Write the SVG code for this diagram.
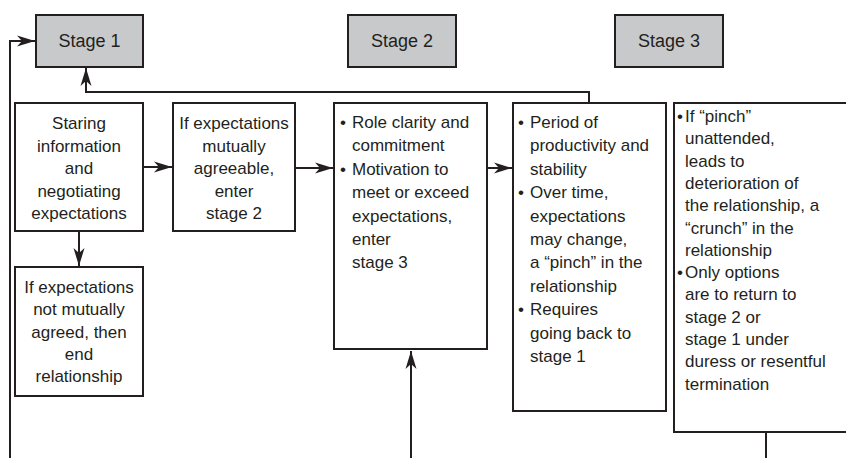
<svg xmlns="http://www.w3.org/2000/svg" width="846" height="458" viewBox="0 0 846 458">
  <style>
    .box { fill: #ffffff; stroke: #231f20; stroke-width: 2; }
    .stage { fill: #c8c9cb; stroke: #231f20; stroke-width: 2; }
    .t { font-family: "Liberation Sans", Arial, Helvetica, sans-serif; font-size: 17px; fill: #231f20; }
    .c { text-anchor: middle; }
    .st { font-family: "Liberation Sans", Arial, Helvetica, sans-serif; font-size: 18px; fill: #231f20; text-anchor: middle; }
    .conn { fill: none; stroke: #231f20; stroke-width: 2; }
  </style>
  <defs>
    <marker id="arrow" markerUnits="userSpaceOnUse" viewBox="-18 -6 19 12" refX="0" refY="0" markerWidth="19" markerHeight="12" orient="auto">
      <path d="M0,0 L-18,-5.5 L-13,0 L-18,5.5 Z" fill="#231f20"/>
    </marker>
  </defs>

  <rect width="846" height="458" fill="#ffffff"/>

  <!-- stage headers -->
  <g id="stage1">
    <rect class="stage" x="36" y="15" width="107" height="52"/>
    <text class="st" x="89.5" y="47">Stage 1</text>
  </g>
  <g id="stage2">
    <rect class="stage" x="348" y="15" width="108" height="52"/>
    <text class="st" x="402" y="47">Stage 2</text>
  </g>
  <g id="stage3">
    <rect class="stage" x="615" y="15" width="108" height="52"/>
    <text class="st" x="669" y="47">Stage 3</text>
  </g>

  <!-- connectors -->
  <g id="connectors">
    <path class="conn" d="M10,458 V41 H35" marker-end="url(#arrow)"/>
    <path class="conn" d="M589,103 V92 H86 V68" marker-end="url(#arrow)"/>
    <path class="conn" d="M143,167 H172" marker-end="url(#arrow)"/>
    <path class="conn" d="M79,231 V266" marker-end="url(#arrow)"/>
    <path class="conn" d="M295,168 H333" marker-end="url(#arrow)"/>
    <path class="conn" d="M487,168 H512" marker-end="url(#arrow)"/>
    <path class="conn" d="M411,458 V351" marker-end="url(#arrow)"/>
    <path class="conn" d="M766,432 V458"/>
  </g>

  <g id="negotiate">
    <rect class="box" x="15" y="103" width="128" height="128"/>
    <text class="t c" x="79" y="129">Staring</text>
    <text class="t c" x="79" y="151.5">information</text>
    <text class="t c" x="79" y="174">and</text>
    <text class="t c" x="79" y="196.5">negotiating</text>
    <text class="t c" x="79" y="219">expectations</text>
  </g>

  <g id="agree">
    <rect class="box" x="173" y="103" width="122" height="128"/>
    <text class="t c" x="234" y="129">If expectations</text>
    <text class="t c" x="234" y="151.5">mutually</text>
    <text class="t c" x="234" y="174">agreeable,</text>
    <text class="t c" x="234" y="196.5">enter</text>
    <text class="t c" x="234" y="219">stage 2</text>
  </g>

  <g id="end">
    <rect class="box" x="15" y="267" width="128" height="129"/>
    <text class="t c" x="79" y="293">If expectations</text>
    <text class="t c" x="79" y="315.3">not mutually</text>
    <text class="t c" x="79" y="337.6">agreed, then</text>
    <text class="t c" x="79" y="359.9">end</text>
    <text class="t c" x="79" y="382.2">relationship</text>
  </g>

  <g id="clarity">
    <rect class="box" x="334" y="103" width="153" height="246"/>
    <text class="t" x="340" y="128">•</text>
    <text class="t" x="352" y="128">Role clarity and</text>
    <text class="t" x="352" y="151.4">commitment</text>
    <text class="t" x="340" y="174.8">•</text>
    <text class="t" x="352" y="174.8">Motivation to</text>
    <text class="t" x="352" y="198.2">meet or exceed</text>
    <text class="t" x="352" y="221.6">expectations,</text>
    <text class="t" x="352" y="245">enter</text>
    <text class="t" x="352" y="268.4">stage 3</text>
  </g>

  <g id="productivity">
    <rect class="box" x="513" y="103" width="153" height="308"/>
    <text class="t" x="518" y="128">•</text>
    <text class="t" x="530" y="128">Period of</text>
    <text class="t" x="530" y="151.4">productivity and</text>
    <text class="t" x="530" y="174.8">stability</text>
    <text class="t" x="518" y="198.2">•</text>
    <text class="t" x="530" y="198.2">Over time,</text>
    <text class="t" x="530" y="221.6">expectations</text>
    <text class="t" x="530" y="245">may change,</text>
    <text class="t" x="530" y="268.4">a “pinch” in the</text>
    <text class="t" x="530" y="291.8">relationship</text>
    <text class="t" x="518" y="315.2">•</text>
    <text class="t" x="530" y="315.2">Requires</text>
    <text class="t" x="530" y="338.6">going back to</text>
    <text class="t" x="530" y="362">stage 1</text>
  </g>

  <g id="crunch">
    <rect class="box" x="674" y="103" width="190" height="329"/>
    <text class="t" x="677" y="122">•</text>
    <text class="t" x="685" y="122">If “pinch”</text>
    <text class="t" x="685" y="144.3">unattended,</text>
    <text class="t" x="685" y="166.6">leads to</text>
    <text class="t" x="685" y="188.9">deterioration of</text>
    <text class="t" x="685" y="211.2">the relationship, a</text>
    <text class="t" x="685" y="233.5">“crunch” in the</text>
    <text class="t" x="685" y="255.8">relationship</text>
    <text class="t" x="677" y="278.1">•</text>
    <text class="t" x="685" y="278.1">Only options</text>
    <text class="t" x="685" y="300.4">are to return to</text>
    <text class="t" x="685" y="322.7">stage 2 or</text>
    <text class="t" x="685" y="345">stage 1 under</text>
    <text class="t" x="685" y="367.3">duress or resentful</text>
    <text class="t" x="685" y="389.6">termination</text>
  </g>
</svg>
